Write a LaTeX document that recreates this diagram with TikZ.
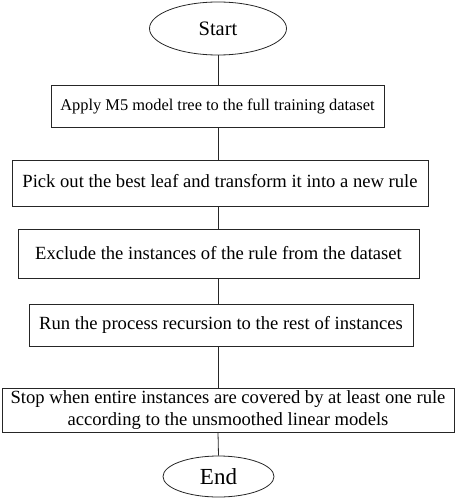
\documentclass[tikz,border=0pt]{standalone}
\usepackage{fontspec}
\setmainfont{Liberation Serif}
\usetikzlibrary{shapes.geometric}
\begin{document}
\begin{tikzpicture}[x=1pt,y=-1pt,
  stepbox/.style={draw=black!85,line width=0.8pt,rectangle,inner sep=0pt,font=\fontsize{18.6}{22}\selectfont,align=center},
  term/.style={draw=black!85,line width=0.8pt,ellipse,inner sep=0pt},
  link/.style={draw=black!85,line width=0.8pt}]
\useasboundingbox (0,0) rectangle (456,500);
\node[term,minimum width=137pt,minimum height=53pt,font=\fontsize{20.5}{24}\selectfont] (start) at (218,28.5) {Start};
\node[stepbox,minimum width=333pt,minimum height=42pt,font=\fontsize{16.4}{20}\selectfont] (b1) at (217.5,106) {Apply M5 model tree to the full training dataset};
\node[stepbox,minimum width=416pt,minimum height=46pt] (b2) at (220,183) {\raisebox{4pt}{Pick out the best leaf and transform it into a new rule}};
\node[stepbox,minimum width=401pt,minimum height=49pt] (b3) at (218.5,253.5) {Exclude the instances of the rule from the dataset};
\node[stepbox,minimum width=384pt,minimum height=42pt] (b4) at (221,325) {Run the process recursion to the rest of instances};
\node[stepbox,minimum width=452pt,minimum height=44pt,font=\fontsize{18.6}{21.5}\selectfont] (b5) at (228,410) {Stop when entire instances are covered by at least one rule\\according to the unsmoothed linear models};
\node[term,minimum width=111pt,minimum height=41pt,font=\fontsize{23}{27}\selectfont] (end) at (218.5,476.5) {End};
\draw[link] (start.south) -- (start.south |- b1.north);
\draw[link] (b1.south -| start.south) -- (b2.north -| start.south);
\draw[link] (b2.south -| start.south) -- (b3.north -| start.south);
\draw[link] (b3.south -| start.south) -- (b4.north -| start.south);
\draw[link] (b4.south -| start.south) -- (b5.north -| start.south);
\draw[link] (b5.south -| start.south) -- (end.north);
\end{tikzpicture}
\end{document}
